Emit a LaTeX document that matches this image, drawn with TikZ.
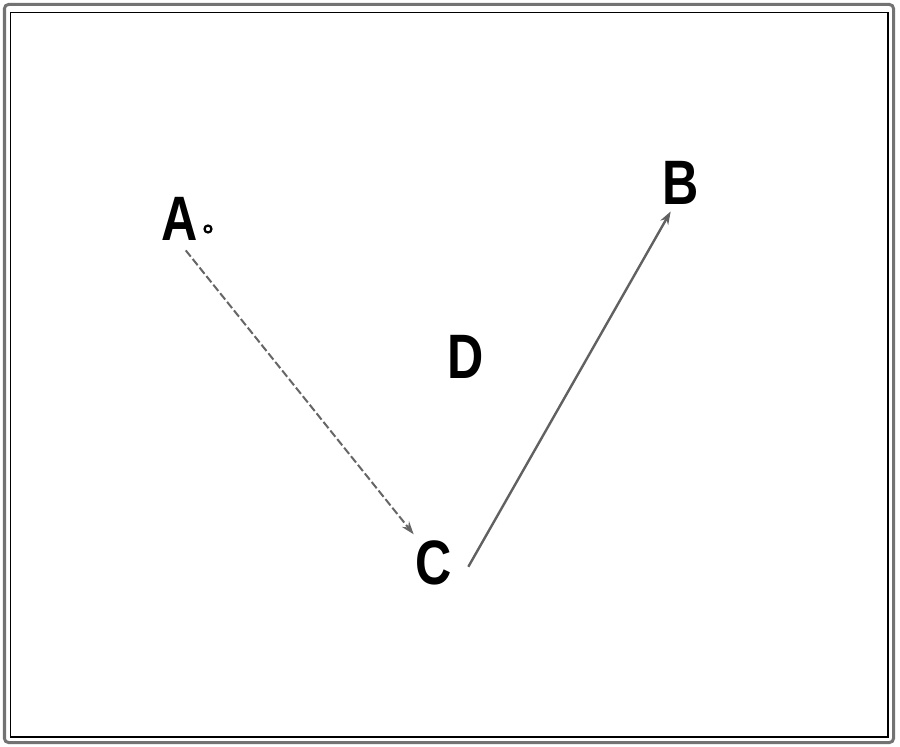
\documentclass[tikz,border=0pt]{standalone}
\usepackage{fontspec}
\setmainfont{Liberation Sans}
\usetikzlibrary{arrows.meta,calc}
\newcommand\narrowtxt[1]{\scalebox{0.8}[1]{#1}}
\begin{document}
\begin{tikzpicture}[x=1bp,y=-1bp,
  lbl/.style={inner sep=5bp, text height=45bp, text depth=0bp, font=\fontsize{63}{63}\selectfont\bfseries},
  dot/.style={circle, draw, line width=2.2bp, fill=white, inner sep=0pt, minimum size=7bp},
  dashedarrow/.style={draw=black!60, line width=2bp, dash pattern=on 8bp off 3bp, -{Stealth[length=13bp,width=9bp]}},
  solidarrow/.style={draw=black!62, line width=2.4bp, -{Stealth[length=13bp,width=9bp]}},
  outerframe/.style={draw=black!55, line width=3bp, rounded corners=4bp},
  innerframe/.style={draw=black, line width=1.3bp}]
\useasboundingbox (0,0) rectangle (900,747);
\draw[outerframe] (4.5,4.5) rectangle (893.5,742.5);
\draw[innerframe] (10.5,12.5) rectangle (888,737);
\node[lbl] (A) at (180,218) {\narrowtxt{A}};
\node[dot] (Adot) at (208,229) {};
\node[lbl] (B) at (681,182) {\narrowtxt{B}};
\node[lbl] (C) at (434,562) {\narrowtxt{C}};
\node[lbl] (D) at (466,356) {\narrowtxt{D}};
\draw[dashedarrow, shorten <=6bp] ([xshift=2bp]A.south) -- ([xshift=3bp]C.north west);
\draw[solidarrow, shorten <=6bp, shorten >=2bp] ([xshift=8bp,yshift=-10bp]C.east) -- ($(B.south west)!0.3!(B.south east)$);
\end{tikzpicture}
\end{document}
